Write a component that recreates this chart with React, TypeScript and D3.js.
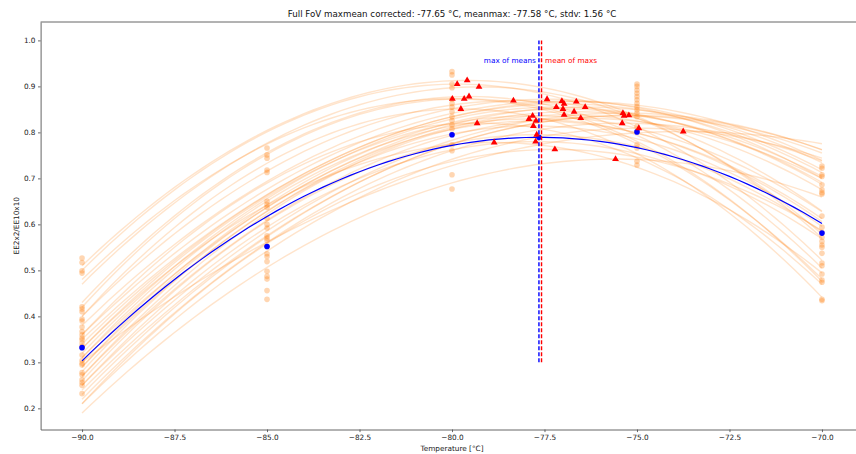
import React, { useRef, useEffect } from 'react';
import * as d3 from 'd3';

const temps = [-90, -85, -80, -75, -70];

// measured values (orange points) per temperature
const pointsM90 = [0.527, 0.517, 0.499, 0.494, 0.421, 0.416, 0.41, 0.394, 0.39, 0.377, 0.367, 0.36, 0.353, 0.349, 0.342, 0.335, 0.316, 0.304, 0.298, 0.294, 0.278, 0.273, 0.262, 0.256, 0.25, 0.232];
const pointsM85 = [0.766, 0.751, 0.744, 0.718, 0.713, 0.65, 0.643, 0.637, 0.613, 0.6, 0.592, 0.575, 0.57, 0.565, 0.552, 0.536, 0.53, 0.519, 0.498, 0.487, 0.481, 0.456, 0.437];
const pointsM80 = [0.932, 0.925, 0.905, 0.897, 0.872, 0.863, 0.855, 0.845, 0.834, 0.826, 0.816, 0.808, 0.795, 0.773, 0.76, 0.708, 0.677];
const pointsM75 = [0.905, 0.9, 0.892, 0.885, 0.878, 0.871, 0.863, 0.856, 0.849, 0.842, 0.834, 0.813, 0.802, 0.773, 0.766, 0.737, 0.729];
const pointsM70 = [0.727, 0.722, 0.708, 0.704, 0.686, 0.675, 0.669, 0.666, 0.618, 0.594, 0.582, 0.572, 0.563, 0.555, 0.55, 0.537, 0.516, 0.51, 0.492, 0.479, 0.474, 0.437, 0.434];

const meanValues = [0.332, 0.552, 0.795, 0.801, 0.581];

// per-fit maxima (red triangles) and fitted value at -90
const peakTemps = [-79.86, -79.59, -79.27, -79.99, -79.67, -79.54, -79.76, -78.34, -79.32, -78.86, -77.92, -77.82, -77.73, -77.8, -77.71, -77.74, -77.43, -77.03, -76.97, -77.18, -76.64, -77.0, -76.7, -76.4, -76.97, -76.52, -75.38, -75.35, -75.22, -75.4, -74.95, -77.22, -75.58, -73.75];
const peakValues = [0.905, 0.913, 0.899, 0.873, 0.873, 0.878, 0.851, 0.869, 0.82, 0.778, 0.829, 0.836, 0.825, 0.814, 0.795, 0.78, 0.872, 0.868, 0.862, 0.855, 0.867, 0.851, 0.845, 0.855, 0.838, 0.831, 0.842, 0.836, 0.837, 0.82, 0.809, 0.763, 0.742, 0.802];
const startValues = [0.5, 0.51, 0.47, 0.48, 0.42, 0.43, 0.4, 0.4, 0.36, 0.33, 0.31, 0.33, 0.29, 0.28, 0.26, 0.25, 0.38, 0.36, 0.34, 0.32, 0.35, 0.3, 0.29, 0.31, 0.27, 0.27, 0.25, 0.23, 0.24, 0.22, 0.21, 0.21, 0.19, 0.3];

const maxOfMeans = -77.65;
const meanOfMaxs = -77.58;

const titleText = 'Full FoV maxmean corrected: -77.65 °C, meanmax: -77.58 °C, stdv: 1.56 °C';

const W = 856;
const H = 454;
const font = '"DejaVu Sans", sans-serif';
const orange = '#ff7f0e';

// least squares quadratic fit
const quadFit = (xs: number[], ys: number[]) => {
  const n = xs.length;
  const mx = d3.mean(xs) as number;
  const u = xs.map((x) => x - mx);
  const s2 = d3.sum(u, (v) => v * v);
  const s3 = d3.sum(u, (v) => v * v * v);
  const s4 = d3.sum(u, (v) => v * v * v * v);
  const sy = d3.sum(ys);
  const sxy = d3.sum(u.map((v, i) => v * ys[i]));
  const sx2y = d3.sum(u.map((v, i) => v * v * ys[i]));
  const A = [
    [n, 0, s2, sy],
    [0, s2, s3, sxy],
    [s2, s3, s4, sx2y],
  ];
  for (let i = 0; i < 3; i++) {
    for (let j = i + 1; j < 3; j++) {
      const f = A[j][i] / A[i][i];
      for (let k = i; k < 4; k++) A[j][k] -= f * A[i][k];
    }
  }
  const c = [0, 0, 0];
  for (let i = 2; i >= 0; i--) {
    let s = A[i][3];
    for (let k = i + 1; k < 3; k++) s -= A[i][k] * c[k];
    c[i] = s / A[i][i];
  }
  return (x: number) => c[0] + c[1] * (x - mx) + c[2] * (x - mx) * (x - mx);
};

const App = () => {
  const svgRef = useRef(null);

  useEffect(() => {
    const svg = d3.select(svgRef.current);
    svg.selectAll('*').remove();

    const x = d3.scaleLinear().domain([-91.12, -68.88]).range([40.6, 863.4]);
    const y = d3.scaleLinear().domain([0.154, 1.04]).range([429.5, 22]);

    const samples = d3.range(-90, -69.99, 0.25);
    const line = d3
      .line<[number, number]>()
      .x((d) => x(d[0]))
      .y((d) => y(d[1]));

    // individual fits
    const curves = peakTemps.map((h, i) => {
      const k = peakValues[i];
      const a = (startValues[i] - k) / ((-90 - h) * (-90 - h));
      return samples.map((t) => [t, k + a * (t - h) * (t - h)] as [number, number]);
    });
    svg
      .append('g')
      .selectAll('path')
      .data(curves)
      .join('path')
      .attr('d', line)
      .attr('fill', 'none')
      .attr('stroke', orange)
      .attr('stroke-opacity', 0.21)
      .attr('stroke-width', 1.4);

    // measured points
    const columns = [pointsM90, pointsM85, pointsM80, pointsM75, pointsM70];
    const pts = columns.flatMap((col, i) => col.map((v) => [temps[i], v]));
    svg
      .append('g')
      .selectAll('circle')
      .data(pts)
      .join('circle')
      .attr('cx', (d) => x(d[0]))
      .attr('cy', (d) => y(d[1]))
      .attr('r', 2.8)
      .attr('fill', orange)
      .attr('fill-opacity', 0.32);

    // mean fit
    const fit = quadFit(temps, meanValues);
    svg
      .append('path')
      .attr('d', line(samples.map((t) => [t, fit(t)] as [number, number])))
      .attr('fill', 'none')
      .attr('stroke', 'blue')
      .attr('stroke-width', 1.2);

    svg
      .append('g')
      .selectAll('circle')
      .data(meanValues)
      .join('circle')
      .attr('cx', (_, i) => x(temps[i]))
      .attr('cy', (d) => y(d))
      .attr('r', 2.8)
      .attr('fill', 'blue');

    svg
      .append('circle')
      .attr('cx', x(maxOfMeans))
      .attr('cy', y(fit(maxOfMeans)))
      .attr('r', 2.8)
      .attr('fill', 'blue');

    // maxima
    const tri = d3.symbol().type(d3.symbolTriangle).size(20);
    svg
      .append('g')
      .selectAll('path')
      .data(peakTemps)
      .join('path')
      .attr('d', tri)
      .attr('transform', (d, i) => `translate(${x(d)},${y(peakValues[i])})`)
      .attr('fill', 'red');

    // vertical markers
    const vlines = [
      { t: maxOfMeans, color: 'blue' },
      { t: meanOfMaxs, color: 'red' },
    ];
    svg
      .append('g')
      .selectAll('line')
      .data(vlines)
      .join('line')
      .attr('x1', (d) => x(d.t))
      .attr('x2', (d) => x(d.t))
      .attr('y1', y(0.3))
      .attr('y2', y(1.0))
      .attr('stroke', (d) => d.color)
      .attr('stroke-width', 1.4)
      .attr('stroke-dasharray', '4,2');

    svg
      .append('text')
      .attr('x', x(maxOfMeans) - 3)
      .attr('y', y(0.95))
      .attr('text-anchor', 'end')
      .attr('fill', 'blue')
      .style('font', `7.3px ${font}`)
      .text('max of means');
    svg
      .append('text')
      .attr('x', x(meanOfMaxs) + 3.5)
      .attr('y', y(0.95))
      .attr('fill', 'red')
      .style('font', `7.3px ${font}`)
      .text('mean of maxs');

    // axes
    const xAxis = d3
      .axisBottom(x)
      .tickValues(d3.range(-90, -69.9, 2.5))
      .tickSize(2.6)
      .tickSizeOuter(0)
      .tickPadding(2.5)
      .tickFormat((d) => (d as number).toFixed(1).replace('-', '\u2212'));
    const xg = svg.append('g').attr('transform', `translate(0,${y(0.154)})`).call(xAxis);

    const yAxis = d3
      .axisLeft(y)
      .tickValues(d3.range(0.2, 1.01, 0.1))
      .tickSize(2.6)
      .tickSizeOuter(0)
      .tickPadding(2.5)
      .tickFormat((d) => (d as number).toFixed(1));
    const yg = svg.append('g').attr('transform', `translate(${x(-91.12)},0)`).call(yAxis);

    [xg, yg].forEach((g) => {
      g.selectAll('.domain').attr('stroke', '#666').attr('stroke-width', 1);
      g.selectAll('.tick line').attr('stroke', '#444').attr('stroke-width', 0.8);
      g.selectAll('.tick text')
        .attr('fill', '#222')
        .style('font-family', font)
        .style('font-size', '7.3px');
    });

    svg
      .append('line')
      .attr('x1', x(-91.12))
      .attr('x2', x(-68.88))
      .attr('y1', y(1.04))
      .attr('y2', y(1.04))
      .attr('stroke', '#666')
      .attr('stroke-width', 1);

    svg
      .append('text')
      .attr('x', (x(-91.12) + x(-68.88)) / 2)
      .attr('y', 451)
      .attr('text-anchor', 'middle')
      .attr('fill', '#222')
      .style('font', `7.3px ${font}`)
      .text('Temperature [°C]');

    svg
      .append('text')
      .attr('transform', `translate(18.5,${(y(0.154) + y(1.04)) / 2}) rotate(-90)`)
      .attr('text-anchor', 'middle')
      .attr('fill', '#222')
      .style('font', `7.3px ${font}`)
      .text('EE2x2/EE10x10');

    svg
      .append('text')
      .attr('x', (x(-91.12) + x(-68.88)) / 2)
      .attr('y', 16.5)
      .attr('text-anchor', 'middle')
      .attr('fill', '#111')
      .style('font', `8.7px ${font}`)
      .text(titleText);
  }, []);

  return (
    <svg
      ref={svgRef}
      width={W}
      height={H}
      style={{ position: 'absolute', left: 0, top: 0, background: '#fff' }}
    ></svg>
  );
};

export default App;
